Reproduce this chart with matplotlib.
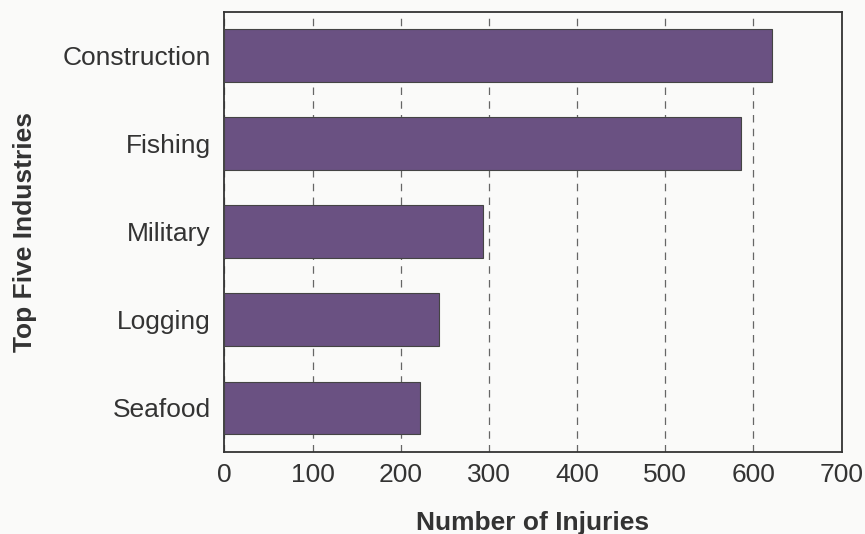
import matplotlib
matplotlib.use("Agg")
import matplotlib.pyplot as plt

industries = ["Construction", "Fishing", "Military", "Logging", "Seafood"]
injuries = [621, 586, 293, 243, 222]
xticks = [0, 100, 200, 300, 400, 500, 600, 700]

plt.rcParams['font.family'] = ['Liberation Sans', 'DejaVu Sans']
bg = "#fafaf9"
txt = "#333333"

fig = plt.figure(figsize=(8.65, 5.34), dpi=100, facecolor=bg)
ax = fig.add_axes([0.2595, 0.1536, 0.7135, 0.8245], facecolor=bg)

pos = list(range(len(industries)))
ax.barh(pos, injuries, height=0.6, color="#6a5182", edgecolor="#444444", linewidth=0.8, zorder=3)
ax.set_ylim(len(industries) - 0.5, -0.5)  # top item first
ax.set_xlim(0, 700)
ax.set_yticks(pos)
ax.set_yticklabels(industries)
ax.set_xticks(xticks)

# dashed vertical grid behind the bars
ax.grid(axis="x", color="#666666", linestyle=(0, (6, 5)), linewidth=0.9, zorder=0)
ax.tick_params(length=0, labelsize=19, colors=txt)
ax.tick_params(axis="x", pad=8)
ax.tick_params(axis="y", pad=10)
for s in ax.spines.values():
    s.set_color("#333333")
    s.set_linewidth(1.3)

ax.set_xlabel("Number of Injuries", fontsize=19, fontweight="bold", color=txt, labelpad=17)
ax.set_ylabel("Top Five Industries", fontsize=19, fontweight="bold", color=txt, labelpad=18)

fig.savefig("out.png", dpi=100, facecolor=bg)
